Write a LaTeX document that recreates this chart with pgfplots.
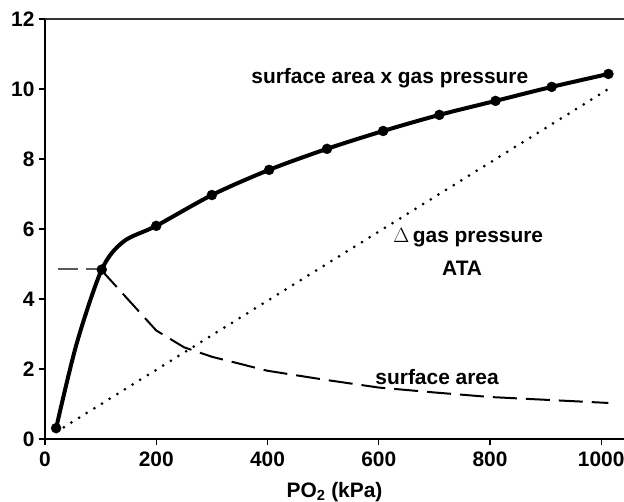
\documentclass[border=0pt]{standalone}
\usepackage{pgfplots}
\pgfplotsset{compat=1.18}
\usepackage{fontspec}
\setmainfont{Liberation Sans}
\begin{document}
\begin{tikzpicture}
\path[use as bounding box] (-45bp,-63bp) rectangle (579bp,439bp);
\begin{axis}[
  scale only axis, width=579bp, height=420bp,
  xmin=0, xmax=1041, ymin=0, ymax=12,
  axis lines=left,
  axis line style={-, line width=1.6bp},
  tick align=outside,
  major tick length=6bp,
  tick style={line width=1.4bp, black},
  xtick={0,200,...,1000}, ytick={0,2,...,12},
  tick label style={font=\fontsize{21}{24}\selectfont\bfseries},
  /pgf/number format/assume math mode=true,
  /pgf/number format/set thousands separator={},
  xticklabel style={yshift=-3bp},
  yticklabel style={xshift=-1bp},
  xlabel={PO\textsubscript{2} (kPa)},
  xlabel style={font=\fontsize{21}{24}\selectfont\bfseries, yshift=-9bp},
  clip=false,
]
% top border
\draw[line width=1.4bp, black!80] (axis cs:0,12) -- (axis cs:1041,12);
% dotted: delta gas pressure
\addplot[black, line width=3bp, dash pattern=on 0bp off 9bp, line cap=round] coordinates {(20,0.2) (1013,10.0)};
% dashed: surface area
\addplot[black!65, line width=2bp, dash pattern=on 20bp off 8bp] coordinates {(23,4.85) (100,4.85)};
\addplot[black, line width=2bp, dash pattern=on 24bp off 9bp] coordinates {
(100,4.85) (200,3.1) (250,2.62) (300,2.35) (350,2.15) (400,1.95) (500,1.7) (600,1.47) (700,1.33) (800,1.2) (900,1.12) (1013,1.03)};
% solid: surface area x gas pressure
\addplot[black, line width=4bp, smooth, tension=0.5] coordinates {
(20,0.31) (57,2.73) (102,4.84) (141,5.64) (200,6.09) (300,6.97) (403,7.69) (507,8.29) (608,8.8) (709,9.26) (810,9.66) (911,10.06) (1013,10.43)};
\addplot[black, only marks, mark=*, mark size=5bp] coordinates {
(20,0.31) (102,4.84) (200,6.09) (300,6.97) (403,7.69) (507,8.29) (608,8.8) (709,9.26) (810,9.66) (911,10.06) (1013,10.43)};
\node[font=\fontsize{21}{24}\selectfont\bfseries] at (axis cs:620,10.3) {surface area x gas pressure};
\node[font=\fontsize{21}{24}\selectfont\bfseries] at (axis cs:761,5.74) {$\Delta$\,gas pressure};
\node[font=\fontsize{21}{24}\selectfont\bfseries] at (axis cs:750,4.88) {ATA};
\node[font=\fontsize{21}{24}\selectfont\bfseries] at (axis cs:705,1.77) {surface area};
\end{axis}
\end{tikzpicture}
\end{document}
